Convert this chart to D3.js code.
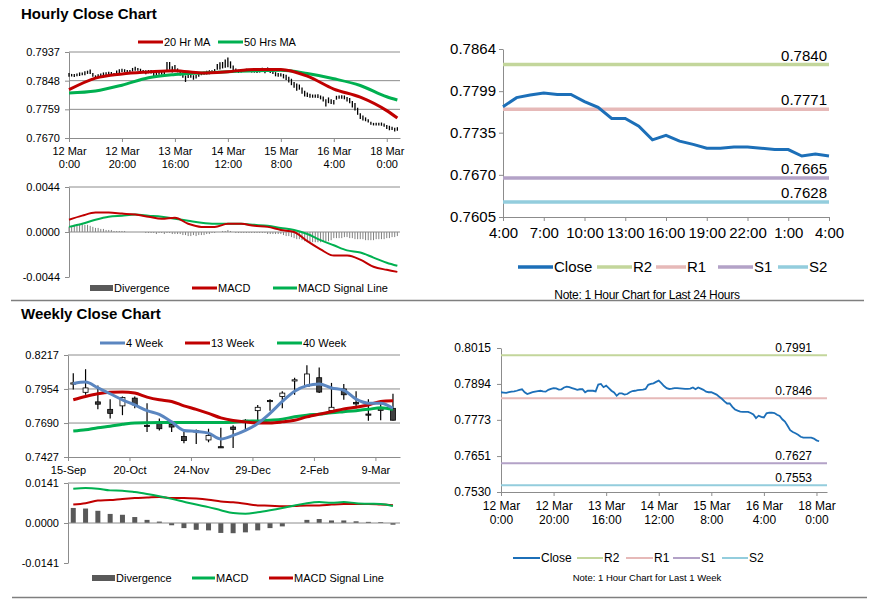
<!DOCTYPE html>
<html>
<head>
<meta charset="utf-8">
<script src="https://cdn.jsdelivr.net/npm/d3@7"></script>
<style>
  body { margin: 0; background: #fff; }
  svg { display: block; font-family: Arial, "Liberation Sans", sans-serif; }
</style>
</head>
<body>
<svg id="chart" width="873" height="601"></svg>
<script>
// ---- hourly (last week) ----
const hourlyClose = [
  .7866,.7865,.7864,.7866,.7868,.7869,.7871,.7874,.7876,.7866,
  .7860,.7863,.7866,.7868,.7870,.7871,.7869,.7868,.7874,.7877,
  .7880,.7879,.7875,.7876,.7882,.7885,.7883,.7880,.7877,.7874,
  .7876,.7876,.7866,.7871,.7871,.7871,.7869,.7892,.7894,.7883,
  .7888,.7880,.7871,.7865,.7854,.7862,.7862,.7858,.7860,.7866,
  .7870,.7871,.7873,.7874,.7875,.7877,.7891,.7894,.7896,.7901,
  .7905,.7897,.7887,.7880,.7877,.7878,.7880,.7880,.7879,.7878,
  .7877,.7877,.7878,.7882,.7876,.7882,.7878,.7874,.7868,.7866,
  .7866,.7862,.7858,.7851,.7844,.7835,.7828,.7828,.7817,.7808,
  .7804,.7801,.7800,.7800,.7800,.7796,.7791,.7779,.7787,.7783,
  .7781,.7795,.7797,.7797,.7796,.7790,.7786,.7775,.7767,.7753,
  .7738,.7732,.7728,.7723,.7716,.7713,.7713,.7713,.7713,.7710,
  .7704,.7701,.7700,.7696,.7698
]
const hourlyRange = [
  .0012,.0008,.0010,.0009,.0011,.0008,.0012,.0010,.0014,.0012,
  .0009,.0010,.0008,.0011,.0009,.0010,.0012,.0008,.0011,.0013,
  .0010,.0009,.0012,.0010,.0011,.0013,.0009,.0010,.0008,.0012,
  .0010,.0011,.0014,.0012,.0009,.0010,.0016,.0028,.0024,.0020,
  .0018,.0012,.0014,.0016,.0020,.0012,.0010,.0014,.0011,.0012,
  .0010,.0009,.0011,.0012,.0010,.0014,.0018,.0022,.0020,.0026,
  .0030,.0022,.0016,.0012,.0010,.0009,.0008,.0010,.0008,.0009,
  .0008,.0010,.0009,.0012,.0010,.0014,.0012,.0011,.0013,.0012,
  .0010,.0014,.0016,.0018,.0020,.0018,.0022,.0016,.0020,.0018,
  .0014,.0012,.0010,.0010,.0011,.0012,.0016,.0022,.0018,.0015,
  .0014,.0012,.0010,.0011,.0012,.0014,.0016,.0020,.0024,.0022,
  .0018,.0016,.0012,.0010,.0009,.0008,.0008,.0009,.0010,.0010,
  .0012,.0014,.0010,.0012,.0011
]
const hourlyTicks = [0, 20, 40, 60, 80, 100, 120]
const hourlyTickLabels = [["12 Mar","0:00"],["12 Mar","20:00"],["13 Mar","16:00"],["14 Mar","12:00"],["15 Mar","8:00"],["16 Mar","4:00"],["18 Mar","0:00"]]

const maIdx = [0,10,20,30,40,50,60,70,80,90,100,110,120,124]
const ma20 = [.7820,.7856,.7869,.7875,.7879,.7872,.7876,.7883,.7883,.7862,.7822,.7797,.7755,.7732]
const ma50 = [.7810,.7816,.7834,.7857,.7867,.7872,.7876,.7879,.7880,.7870,.7854,.7833,.7798,.7788]

const macdIdx = [0,5,10,15,20,25,30,35,40,45,50,55,60,65,70,75,80,85,90,95,100,105,110,115,120,124]
const hMacd = [.0012,.0016,.0019,.0019,.0018,.0017,.0015,.0013,.0014,.0008,.0005,.0005,.0008,.0008,.0006,.0005,.0002,.0000,-.0009,-.0017,-.0023,-.0023,-.0027,-.0034,-.0037,-.0039]
const hSignal = [.0005,.0008,.0012,.0015,.0016,.0017,.0016,.0015,.0013,.0011,.0009,.0008,.0008,.0008,.0007,.0006,.0004,.0002,-.0002,-.0008,-.0013,-.0018,-.0020,-.0025,-.0030,-.0033]
const hDiv = [
  .0005,.0006,.0007,.0007,.0008,.0008,.0007,.0007,.0006,.0005,
  .0004,.0004,.0003,.0003,.0002,.0002,.0002,.0001,.0001,.0001,
  .0001,.0001,0,0,0,0,0,0,0,-.0001,
  -.0001,-.0001,-.0001,-.0002,-.0001,-.0001,-.0002,-.0001,-.0001,-.0002,
  -.0002,-.0002,-.0002,-.0003,-.0003,-.0004,-.0004,-.0003,-.0004,-.0003,
  -.0003,-.0003,-.0002,-.0002,-.0001,-.0001,0,0,.0001,.0001,
  .0002,.0001,0,-.0001,-.0001,-.0001,-.0001,-.0001,-.0001,-.0001,
  -.0001,-.0001,-.0001,-.0001,-.0001,-.0002,-.0002,-.0002,-.0002,-.0002,
  -.0002,-.0003,-.0004,-.0004,-.0005,-.0006,-.0007,-.0007,-.0008,-.0009,
  -.0010,-.0010,-.0010,-.0010,-.0010,-.0010,-.0009,-.0009,-.0009,-.0008,
  -.0006,-.0006,-.0006,-.0006,-.0005,-.0005,-.0006,-.0006,-.0007,-.0007,
  -.0007,-.0007,-.0008,-.0008,-.0008,-.0008,-.0007,-.0007,-.0007,-.0007,
  -.0006,-.0006,-.0005,-.0005,-.0004
]

// ---- last 24 hours ----
const dayClose = [.7775,.7789,.7793,.7796,.7794,.7794,.7783,.7774,.7757,.7757,.7745,.7724,.7731,.7722,.7717,.7711,.7711,.7713,.7713,.7711,.7709,.7709,.7699,.7702,.7699]
const dayTickLabels = ["4:00","7:00","10:00","13:00","16:00","19:00","22:00","1:00","4:00"]
const dayLevels = [0.7840, 0.7771, 0.7665, 0.7628]
const weekLevels = [0.7991, 0.7846, 0.7627, 0.7553]
const levelNames = ["R2", "R1", "S1", "S2"]

// ---- weekly ----
const wOpen  = [.7996,.7928,.7854,.7796,.7823,.7883,.7672,.7686,.7680,.7586,.7630,.7559,.7507,.7659,.7712,.7786,.7865,.7896,.8020,.7975,.8041,.7786,.7954,.7849,.7760,.7793,.7804]
const wHigh  = [.8075,.8107,.7980,.7875,.7896,.7896,.7844,.7725,.7699,.7620,.7640,.7646,.7654,.7673,.7720,.7830,.7875,.7936,.8041,.8138,.8120,.8001,.7993,.7936,.7875,.7857,.7917]
const wLow   = [.7949,.7909,.7796,.7725,.7751,.7804,.7620,.7633,.7620,.7533,.7528,.7541,.7496,.7496,.7633,.7712,.7786,.7804,.7909,.7970,.7922,.7783,.7870,.7804,.7707,.7712,.7709]
const wClose = [.8001,.7962,.7836,.7765,.7888,.7830,.7666,.7646,.7659,.7554,.7626,.7594,.7501,.7641,.7704,.7812,.7860,.7922,.8025,.8070,.7930,.7812,.7909,.7838,.7754,.7797,.7712]
const wMa4  = [.7996,.8007,.7962,.7917,.7870,.7830,.7786,.7757,.7699,.7633,.7625,.7612,.7567,.7594,.7633,.7686,.7765,.7857,.7936,.7980,.7993,.7962,.7944,.7875,.7844,.7844,.7804]
const wMa13 = [.7870,.7896,.7917,.7928,.7930,.7922,.7891,.7870,.7857,.7823,.7796,.7765,.7730,.7710,.7699,.7691,.7691,.7699,.7712,.7738,.7759,.7778,.7799,.7812,.7830,.7857,.7862]
const wMa40 = [.7628,.7638,.7654,.7665,.7680,.7691,.7693,.7694,.7694,.7694,.7694,.7694,.7694,.7697,.7704,.7706,.7712,.7720,.7738,.7751,.7759,.7770,.7778,.7786,.7796,.7809,.7796]
const wMacd   = [.0121,.0123,.0121,.0115,.0114,.0109,.0102,.0094,.0085,.0075,.0065,.0056,.0045,.0035,.0033,.0038,.0045,.0053,.0062,.0070,.0074,.0071,.0074,.0070,.0068,.0067,.0060]
const wSignal = [.0065,.0070,.0079,.0081,.0085,.0088,.0090,.0092,.0088,.0088,.0086,.0082,.0076,.0073,.0068,.0062,.0061,.0059,.0060,.0062,.0062,.0065,.0067,.0067,.0067,.0065,.0063]
const wDiv    = [.0053,.0051,.0043,.0032,.0029,.0021,.0011,.0005,-.0008,-.0018,-.0024,-.0026,-.0035,-.0036,-.0033,-.0026,-.0018,-.0012,.0000,.0011,.0014,.0009,.0009,.0006,.0004,.0003,-.0006]
const weekTickLabels = ["15-Sep","20-Oct","24-Nov","29-Dec","2-Feb","9-Mar"]

const AXIS = "#8c8c8c"
const RED = "#c00000"
const GREEN = "#00b050"
const BLUE = "#1c6fb8"
const LEVEL_COLORS = ["#c3d69b", "#e6b9b8", "#b3a2c7", "#93cddd"]

const svg = d3.select("#chart")
const fmt = d => d.toFixed(4)

function yAxis(x, scale, ticks, size, pad) {
  svg.append("g")
    .attr("transform", `translate(${x},0)`)
    .call(d3.axisLeft(scale).tickValues(ticks).tickFormat(fmt).tickSize(4).tickSizeOuter(0).tickPadding(pad))
    .call(g => g.selectAll("path,line").attr("stroke", AXIS))
    .call(g => g.selectAll("text").attr("font-size", size).attr("fill", "#000").attr("font-family", null))
}

function xAxis(y, scale, ticks, labels, size, lh) {
  const g = svg.append("g")
    .attr("transform", `translate(0,${y})`)
    .call(d3.axisBottom(scale).tickValues(ticks).tickFormat("").tickSize(4).tickSizeOuter(0))
  g.selectAll("path,line").attr("stroke", AXIS)
  g.selectAll(".tick").each(function(d, i) {
    const lab = labels[i]
    const t = d3.select(this).append("text")
      .attr("fill", "#000").attr("font-size", size).attr("text-anchor", "middle")
    ;[].concat(lab).forEach((s, j) => {
      t.append("tspan").attr("x", 0).attr("y", 6 + size + j * lh).text(s)
    })
  })
}

function grid(scale, vals, x1, x2) {
  svg.append("g").selectAll("line").data(vals).join("line")
    .attr("x1", x1).attr("x2", x2)
    .attr("y1", d => scale(d)).attr("y2", d => scale(d))
    .attr("stroke", AXIS).attr("stroke-width", 1)
}

function legend(items, y, size) {
  items.forEach(it => {
    if (it.rect) {
      svg.append("rect").attr("x", it.x1).attr("y", y - 3).attr("width", it.x2 - it.x1).attr("height", 6).attr("fill", it.color)
    } else {
      svg.append("line").attr("x1", it.x1).attr("x2", it.x2).attr("y1", y).attr("y2", y)
        .attr("stroke", it.color).attr("stroke-width", it.w || 3)
    }
    svg.append("text").attr("x", it.x2 + 1).attr("y", y + size * 0.36)
      .attr("font-size", size).attr("fill", "#000").text(it.label)
  })
}

function title(txt, y) {
  svg.append("text").attr("x", 21).attr("y", y).attr("font-size", 15)
    .attr("font-weight", "bold").attr("fill", "#000").text(txt)
}

// ================= Hourly close chart =================
title("Hourly Close Chart", 19)
{
  const x = d3.scaleLinear().domain([0, 125]).range([69, 400])
  const y = d3.scaleLinear().domain([0.7670, 0.7937]).range([138, 52])
  const yTicks = [0.7670, 0.7759, 0.7848, 0.7937]
  grid(y, yTicks.slice(1), 69, 400)
  yAxis(69, y, yTicks, 11, 5)
  xAxis(138, x, hourlyTicks, hourlyTickLabels, 11, 13)

  svg.append("g").selectAll("line").data(hourlyClose).join("line")
    .attr("x1", (d, i) => x(i)).attr("x2", (d, i) => x(i))
    .attr("y1", (d, i) => y(d + hourlyRange[i] / 2))
    .attr("y2", (d, i) => y(d - hourlyRange[i] / 2))
    .attr("stroke", "#000").attr("stroke-width", 1.3)

  const ma = vals => d3.line().x((d, i) => x(maIdx[i])).y(d => y(d)).curve(d3.curveMonotoneX)(vals)
  svg.append("path").attr("d", ma(ma50)).attr("fill", "none").attr("stroke", GREEN).attr("stroke-width", 3)
  svg.append("path").attr("d", ma(ma20)).attr("fill", "none").attr("stroke", RED).attr("stroke-width", 3)

  legend([
    { x1: 138, x2: 163, color: RED, label: "20 Hr MA" },
    { x1: 218, x2: 243, color: GREEN, label: "50 Hrs MA" }
  ], 42, 11)
}

// hourly MACD
{
  const x = d3.scaleLinear().domain([0, 125]).range([69, 400])
  const y = d3.scaleLinear().domain([-0.0044, 0.0044]).range([277, 187])
  grid(y, [0.0044], 69, 400)
  svg.append("g").selectAll("line").data(hDiv).join("line")
    .attr("x1", (d, i) => x(i)).attr("x2", (d, i) => x(i))
    .attr("y1", y(0)).attr("y2", d => y(d))
    .attr("stroke", "#808080").attr("stroke-width", 1)
  grid(y, [0], 69, 400)
  yAxis(69, y, [-0.0044, 0, 0.0044], 11, 5)

  const ln = vals => d3.line().x((d, i) => x(macdIdx[i])).y(d => y(d)).curve(d3.curveMonotoneX)(vals)
  svg.append("path").attr("d", ln(hSignal)).attr("fill", "none").attr("stroke", GREEN).attr("stroke-width", 2)
  svg.append("path").attr("d", ln(hMacd)).attr("fill", "none").attr("stroke", RED).attr("stroke-width", 2)

  legend([
    { x1: 90, x2: 113, color: "#595959", label: "Divergence", rect: true },
    { x1: 192, x2: 217, color: RED, label: "MACD" },
    { x1: 273, x2: 297, color: GREEN, label: "MACD Signal Line" }
  ], 288, 11)
}

// ================= Last 24 hours =================
{
  const x = d3.scaleLinear().domain([0, 24]).range([503, 829])
  const y = d3.scaleLinear().domain([0.7605, 0.7864]).range([217, 49])
  yAxis(503, y, [0.7605, 0.7670, 0.7735, 0.7799, 0.7864], 15, 3)
  xAxis(217, x, d3.range(0, 25, 3), dayTickLabels, 15, 15)

  dayLevels.forEach((v, i) => {
    svg.append("line").attr("x1", 503).attr("x2", 829).attr("y1", y(v)).attr("y2", y(v))
      .attr("stroke", LEVEL_COLORS[i]).attr("stroke-width", 3.5)
    svg.append("text").attr("x", 827).attr("y", y(v) - 4).attr("text-anchor", "end")
      .attr("font-size", 15).attr("fill", "#000").text(fmt(v))
  })
  svg.append("path").datum(dayClose)
    .attr("d", d3.line().x((d, i) => x(i)).y(d => y(d)))
    .attr("fill", "none").attr("stroke", BLUE).attr("stroke-width", 3)

  legend([
    { x1: 518, x2: 553, color: BLUE, label: "Close", w: 3.5 },
    { x1: 597, x2: 632, color: LEVEL_COLORS[0], label: levelNames[0], w: 3.5 },
    { x1: 656, x2: 686, color: LEVEL_COLORS[1], label: levelNames[1], w: 3.5 },
    { x1: 718, x2: 753, color: LEVEL_COLORS[2], label: levelNames[2], w: 3.5 },
    { x1: 778, x2: 808, color: LEVEL_COLORS[3], label: levelNames[3], w: 3.5 }
  ], 267, 15)
  svg.append("text").attr("x", 647).attr("y", 299).attr("text-anchor", "middle")
    .attr("font-size", 12).attr("letter-spacing", -0.3).attr("fill", "#000")
    .text("Note: 1 Hour Chart for Last 24 Hours")
}

// separators
svg.append("line").attr("x1", 11).attr("x2", 864).attr("y1", 300.5).attr("y2", 300.5).attr("stroke", "#7f7f7f").attr("stroke-width", 1.5)
svg.append("line").attr("x1", 12).attr("x2", 867).attr("y1", 597.5).attr("y2", 597.5).attr("stroke", "#7f7f7f").attr("stroke-width", 1.5)

// ================= Weekly close chart =================
title("Weekly Close Chart", 319)
const OFF = 3 / 7 // candles sit mid-week on the date axis
{
  const x = d3.scaleLinear().domain([-OFF, 27 - OFF]).range([68, 400])
  const y = d3.scaleLinear().domain([0.7427, 0.8217]).range([457, 355])
  const yTicks = [0.7427, 0.7690, 0.7954, 0.8217]
  grid(y, yTicks.slice(1), 68, 400)
  yAxis(68, y, yTicks, 11, 5)
  xAxis(457, x, weekTickLabels.map((d, i) => i * 5 - OFF), weekTickLabels, 11, 13)

  const idx = d3.range(wClose.length)
  svg.append("g").selectAll("line").data(idx).join("line")
    .attr("x1", i => x(i)).attr("x2", i => x(i))
    .attr("y1", i => y(wHigh[i])).attr("y2", i => y(wLow[i]))
    .attr("stroke", "#000").attr("stroke-width", 1.2)
  svg.append("g").selectAll("rect").data(idx).join("rect")
    .attr("x", i => x(i) - 2.5).attr("width", 5)
    .attr("y", i => y(Math.max(wOpen[i], wClose[i])))
    .attr("height", i => Math.max(1.2, Math.abs(y(wOpen[i]) - y(wClose[i]))))
    .attr("fill", i => wClose[i] >= wOpen[i] ? "#fff" : "#404040")
    .attr("stroke", "#000").attr("stroke-width", 0.8)

  const ln = d3.line().x((d, i) => x(i)).y(d => y(d)).curve(d3.curveMonotoneX)
  svg.append("path").attr("d", ln(wMa40)).attr("fill", "none").attr("stroke", GREEN).attr("stroke-width", 3)
  svg.append("path").attr("d", ln(wMa13)).attr("fill", "none").attr("stroke", RED).attr("stroke-width", 3)
  svg.append("path").attr("d", ln(wMa4)).attr("fill", "none").attr("stroke", "#5b86c0").attr("stroke-width", 3)

  legend([
    { x1: 100, x2: 125, color: "#5b86c0", label: "4 Week" },
    { x1: 185, x2: 210, color: RED, label: "13 Week" },
    { x1: 277, x2: 302, color: GREEN, label: "40 Week" }
  ], 343, 11)
}

// weekly MACD
{
  const x = d3.scaleLinear().domain([-OFF, 27 - OFF]).range([68, 400])
  const y = d3.scaleLinear().domain([-0.0141, 0.0141]).range([563, 483])
  grid(y, [0.0141], 68, 400)
  svg.append("g").selectAll("rect").data(wDiv).join("rect")
    .attr("x", (d, i) => x(i) - 2.5).attr("width", 5)
    .attr("y", d => y(Math.max(0, d)))
    .attr("height", d => Math.abs(y(d) - y(0)))
    .attr("fill", "#595959")
  grid(y, [0], 68, 400)
  yAxis(68, y, [-0.0141, 0, 0.0141], 11, 5)

  const ln = d3.line().x((d, i) => x(i)).y(d => y(d)).curve(d3.curveMonotoneX)
  svg.append("path").attr("d", ln(wSignal)).attr("fill", "none").attr("stroke", RED).attr("stroke-width", 2)
  svg.append("path").attr("d", ln(wMacd)).attr("fill", "none").attr("stroke", GREEN).attr("stroke-width", 2)

  legend([
    { x1: 92, x2: 115, color: "#595959", label: "Divergence", rect: true },
    { x1: 192, x2: 215, color: GREEN, label: "MACD" },
    { x1: 269, x2: 293, color: RED, label: "MACD Signal Line" }
  ], 578, 11)
}

// ================= Last week (hourly) =================
{
  const x = d3.scaleLinear().domain([0, 124]).range([501, 827])
  const y = d3.scaleLinear().domain([0.7530, 0.8015]).range([492, 348])
  yAxis(501, y, [0.7530, 0.7651, 0.7773, 0.7894, 0.8015], 12, 6)
  xAxis(492, x, hourlyTicks, hourlyTickLabels, 12, 14)

  weekLevels.forEach((v, i) => {
    svg.append("line").attr("x1", 501).attr("x2", 827).attr("y1", y(v)).attr("y2", y(v))
      .attr("stroke", LEVEL_COLORS[i]).attr("stroke-width", 2)
    svg.append("text").attr("x", 812).attr("y", y(v) - 3).attr("text-anchor", "end")
      .attr("font-size", 12).attr("fill", "#000").text(fmt(v))
  })
  svg.append("path").datum(hourlyClose.slice(0, 122))
    .attr("d", d3.line().x((d, i) => x(i)).y(d => y(d)))
    .attr("fill", "none").attr("stroke", BLUE).attr("stroke-width", 1.8)

  legend([
    { x1: 513, x2: 540, color: BLUE, label: "Close", w: 2 },
    { x1: 577, x2: 603, color: LEVEL_COLORS[0], label: levelNames[0], w: 2 },
    { x1: 626, x2: 653, color: LEVEL_COLORS[1], label: levelNames[1], w: 2 },
    { x1: 673, x2: 700, color: LEVEL_COLORS[2], label: levelNames[2], w: 2 },
    { x1: 722, x2: 748, color: LEVEL_COLORS[3], label: levelNames[3], w: 2 }
  ], 558, 12)
  svg.append("text").attr("x", 647).attr("y", 581).attr("text-anchor", "middle")
    .attr("font-size", 9.5).attr("fill", "#000")
    .text("Note: 1 Hour Chart for Last 1 Week")
}
</script>
</body>
</html>
